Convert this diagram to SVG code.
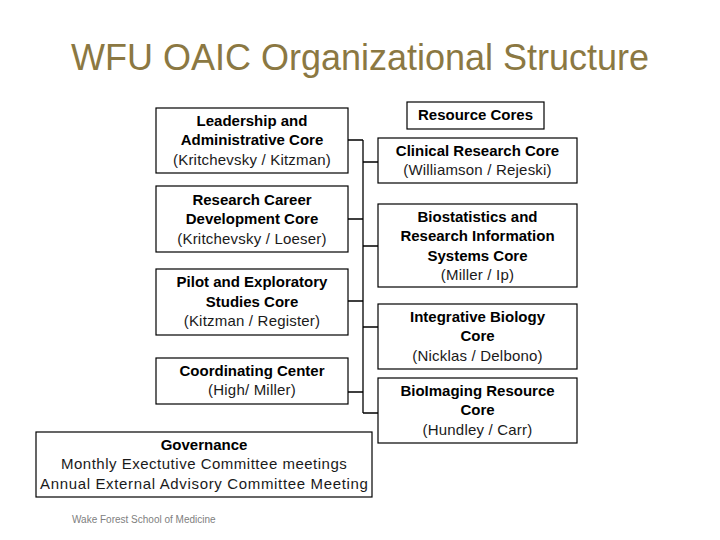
<svg xmlns="http://www.w3.org/2000/svg" width="720" height="540" viewBox="0 0 720 540">
<style>
  .box { fill: #ffffff; stroke: #000000; stroke-width: 1.2; }
  .b { font-family: "Liberation Sans", Arial, sans-serif; font-size: 15px; font-weight: bold; fill: #000000; text-anchor: middle; }
  .r { font-family: "Liberation Sans", Arial, sans-serif; font-size: 15px; fill: #1a1a1a; text-anchor: middle; letter-spacing: 0.2px; }
  .conn { fill: none; stroke: #000000; stroke-width: 1.3; }
</style>
<rect width="720" height="540" fill="#ffffff"/>
<text x="360" y="70" font-family="Liberation Sans, Arial, sans-serif" font-size="36" fill="#8B7842" text-anchor="middle">WFU OAIC Organizational Structure</text>

<g id="connectors">
  <path class="conn" d="M363 140 V413"/>
  <path class="conn" d="M348 140 H363 M348 219 H363 M348 301 H363 M348 392 H363"/>
  <path class="conn" d="M363 162 H378 M363 246 H378 M363 327 H378 M363 413 H378"/>
</g>

<g id="leadership">
  <rect class="box" x="156" y="108" width="192" height="65"/>
  <text class="b" x="252" y="126">Leadership and</text>
  <text class="b" x="252" y="145">Administrative Core</text>
  <text class="r" x="252" y="165">(Kritchevsky / Kitzman)</text>
</g>
<g id="career">
  <rect class="box" x="156" y="186" width="192" height="66"/>
  <text class="b" x="252" y="205">Research Career</text>
  <text class="b" x="252" y="224">Development Core</text>
  <text class="r" x="252" y="244">(Kritchevsky / Loeser)</text>
</g>
<g id="pilot">
  <rect class="box" x="156" y="269" width="192" height="66"/>
  <text class="b" x="252" y="287">Pilot and Exploratory</text>
  <text class="b" x="252" y="307">Studies Core</text>
  <text class="r" x="252" y="326">(Kitzman / Register)</text>
</g>
<g id="coordinating">
  <rect class="box" x="156" y="358" width="192" height="46"/>
  <text class="b" x="252" y="376">Coordinating Center</text>
  <text class="r" x="252" y="395">(High/ Miller)</text>
</g>
<g id="governance">
  <rect class="box" x="36" y="432" width="336" height="65"/>
  <text class="b" x="204" y="450">Governance</text>
  <text class="r" x="204" y="469" textLength="286" lengthAdjust="spacing">Monthly Exectutive Committee meetings</text>
  <text class="r" x="204" y="489" textLength="328" lengthAdjust="spacing">Annual External Advisory Committee Meeting</text>
</g>

<g id="resource-cores">
  <rect class="box" x="407" y="102" width="137" height="27"/>
  <text class="b" x="475.5" y="120">Resource Cores</text>
</g>
<g id="clinical">
  <rect class="box" x="378" y="138" width="199" height="45"/>
  <text class="b" x="477.5" y="156">Clinical Research Core</text>
  <text class="r" x="477.5" y="175">(Williamson / Rejeski)</text>
</g>
<g id="biostat">
  <rect class="box" x="378" y="204" width="199" height="83"/>
  <text class="b" x="477.5" y="222">Biostatistics and</text>
  <text class="b" x="477.5" y="241">Research Information</text>
  <text class="b" x="477.5" y="261">Systems Core</text>
  <text class="r" x="477.5" y="280">(Miller / Ip)</text>
</g>
<g id="integrative">
  <rect class="box" x="378" y="304" width="199" height="65"/>
  <text class="b" x="477.5" y="322">Integrative Biology</text>
  <text class="b" x="477.5" y="341">Core</text>
  <text class="r" x="477.5" y="361">(Nicklas / Delbono)</text>
</g>
<g id="bioimaging">
  <rect class="box" x="378" y="378" width="199" height="65"/>
  <text class="b" x="477.5" y="396">BioImaging Resource</text>
  <text class="b" x="477.5" y="415">Core</text>
  <text class="r" x="477.5" y="435">(Hundley / Carr)</text>
</g>

<text x="72" y="523" font-family="Liberation Sans, Arial, sans-serif" font-size="10" fill="#808080">Wake Forest School of Medicine</text>
</svg>
